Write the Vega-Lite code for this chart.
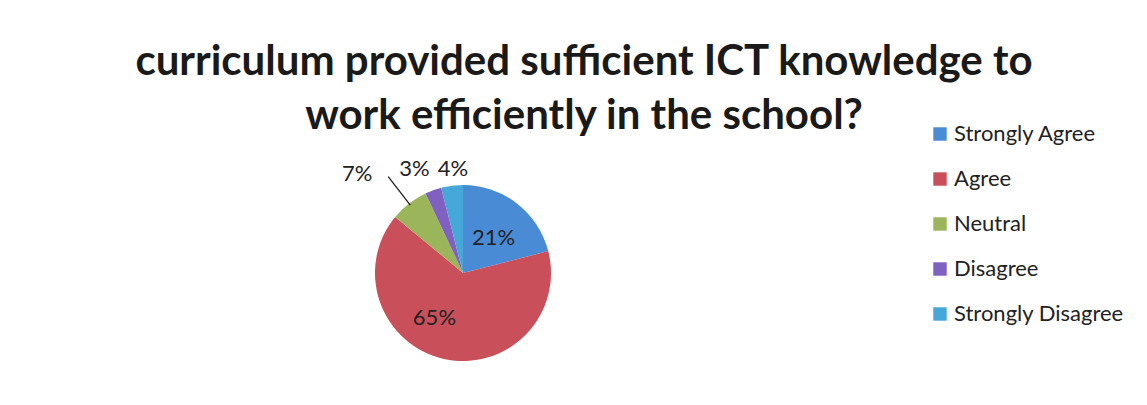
{
  "$schema": "https://vega.github.io/schema/vega-lite/v6.json",
  "width": 926,
  "height": 254,
  "autosize": {"type": "none"},
  "padding": {"left": 0, "top": 146, "right": 221, "bottom": 5},
  "background": "#ffffff",
  "config": {"view": {"stroke": null}},
  "title": {
    "text": ["curriculum provided sufficient ICT knowledge to", "work efficiently in the school?"],
    "font": "Lato",
    "fontSize": 42,
    "fontWeight": "bold",
    "color": "#1a1a1a",
    "anchor": "middle",
    "frame": "group",
    "dx": 121,
    "offset": -57,
    "lineHeight": 54,
    "baseline": "bottom"
  },
  "data": {
    "values": [
      {"idx": 1, "Response": "Strongly Agree", "Percent": 21, "Label": "21%"},
      {"idx": 2, "Response": "Agree", "Percent": 65, "Label": "65%"},
      {"idx": 3, "Response": "Neutral", "Percent": 7, "Label": "7%"},
      {"idx": 4, "Response": "Disagree", "Percent": 3, "Label": "3%"},
      {"idx": 5, "Response": "Strongly Disagree", "Percent": 4, "Label": "4%"}
    ]
  },
  "encoding": {
    "theta": {"field": "Percent", "type": "quantitative", "stack": true},
    "order": {"field": "idx", "type": "quantitative"}
  },
  "layer": [
    {
      "mark": {"type": "arc", "outerRadius": 88},
      "encoding": {
        "color": {
          "field": "Response",
          "type": "nominal",
          "scale": {
            "domain": ["Strongly Agree", "Agree", "Neutral", "Disagree", "Strongly Disagree"],
            "range": ["#4A8BD6", "#C9505A", "#9BB55A", "#8060C0", "#45A8D8"]
          },
          "legend": {
            "orient": "none",
            "legendX": 929,
            "legendY": -23,
            "title": null,
            "symbolType": "square",
            "symbolSize": 180,
            "symbolStrokeWidth": 0,
            "labelFont": "Lato",
            "labelFontSize": 22,
            "labelColor": "#222222",
            "labelOffset": 3,
            "labelLimit": 400,
            "rowPadding": 23
          }
        }
      }
    },
    {
      "mark": {"type": "arc", "radius": 122, "radius2": 86, "padAngle": 0.6, "fillOpacity": 0, "stroke": "#222222", "strokeWidth": 1.3},
      "encoding": {
        "strokeOpacity": {"condition": {"test": "datum.Response === 'Neutral'", "value": 1}, "value": 0}
      }
    },
    {
      "mark": {"type": "text", "radius": 50, "dy": 5, "font": "Lato", "fontSize": 22, "color": "#222222"},
      "encoding": {
        "text": {"condition": {"test": "datum.Response === 'Strongly Agree'", "field": "Label"}, "value": ""}
      }
    },
    {
      "mark": {"type": "text", "radius": 53, "dx": -17, "dy": -7, "font": "Lato", "fontSize": 22, "color": "#222222"},
      "encoding": {
        "text": {"condition": {"test": "datum.Response === 'Agree'", "field": "Label"}, "value": ""}
      }
    },
    {
      "mark": {"type": "text", "radius": 105, "dx": 3, "font": "Lato", "fontSize": 22, "color": "#222222"},
      "encoding": {
        "text": {"condition": {"test": "datum.Response === 'Strongly Disagree'", "field": "Label"}, "value": ""}
      }
    },
    {
      "mark": {"type": "text", "radius": 105, "dx": -13, "dy": -5, "font": "Lato", "fontSize": 22, "color": "#222222"},
      "encoding": {
        "text": {"condition": {"test": "datum.Response === 'Disagree'", "field": "Label"}, "value": ""}
      }
    },
    {
      "mark": {"type": "text", "radius": 140, "dx": -20, "dy": 12, "font": "Lato", "fontSize": 22, "color": "#222222"},
      "encoding": {
        "text": {"condition": {"test": "datum.Response === 'Neutral'", "field": "Label"}, "value": ""}
      }
    }
  ]
}
